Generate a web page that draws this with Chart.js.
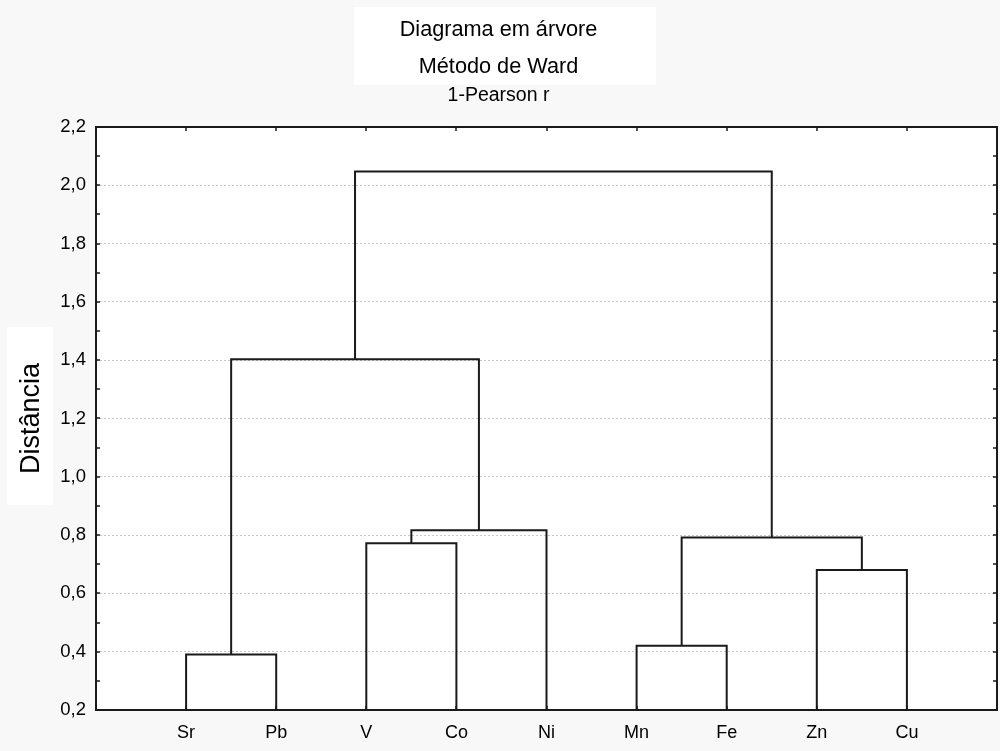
<!DOCTYPE html>
<html>
<head>
<meta charset="utf-8">
<script src="https://cdn.jsdelivr.net/npm/chart.js@4.4.1/dist/chart.umd.min.js"></script>
<style>
  html, body { margin: 0; padding: 0; background: #f8f8f8; }
  #wrap { width: 1000px; height: 751px; }
</style>
</head>
<body>
<div id="wrap"><canvas id="dendro"></canvas></div>
<script>
// leaves in plotted order
const leaves = ['Sr', 'Pb', 'V', 'Co', 'Ni', 'Mn', 'Fe', 'Zn', 'Cu'];
// merges: ids 0-8 are leaves, each merge gets the next id (9, 10, ...)
const mergeLeft  = [0, 5, 7, 2, 10, 12, 9, 15];
const mergeRight = [1, 6, 8, 3, 11, 4, 14, 13];
const mergeDist  = [0.39, 0.42, 0.68, 0.772, 0.792, 0.817, 1.403, 2.047];
// y axis
const yMin = 0.2, yMax = 2.2, yStep = 0.2;

const FONT = '"Liberation Sans", Arial, sans-serif';
Chart.defaults.font.family = FONT;
Chart.defaults.color = '#000';

// build the U shaped links from the merge table
const nodeX = leaves.map((_, i) => i + 1);
const nodeY = leaves.map(() => yMin);
const links = mergeDist.map((d, k) => {
  const a = mergeLeft[k], b = mergeRight[k];
  const pts = [
    { x: nodeX[a], y: nodeY[a] },
    { x: nodeX[a], y: d },
    { x: nodeX[b], y: d },
    { x: nodeX[b], y: nodeY[b] }
  ];
  nodeX.push((nodeX[a] + nodeX[b]) / 2);
  nodeY.push(d);
  return pts;
});

const frame = {
  id: 'frame',
  beforeDraw(chart) {
    const { ctx, chartArea: a } = chart;
    ctx.save();
    ctx.fillStyle = '#f8f8f8';
    ctx.fillRect(0, 0, chart.width, chart.height);
    ctx.fillStyle = '#fff';
    ctx.fillRect(354, 7, 302, 78);     // title box
    ctx.fillRect(7, 327, 46, 178);     // y title box
    ctx.fillRect(a.left, a.top, a.right - a.left, a.bottom - a.top);
    ctx.restore();
  },
  afterDraw(chart) {
    const { ctx, chartArea: a, scales: { x, y } } = chart;
    ctx.save();
    ctx.strokeStyle = '#1a1a1a';
    ctx.lineWidth = 2;
    ctx.strokeRect(a.left, a.top, a.right - a.left, a.bottom - a.top);
    ctx.lineWidth = 1.5;
    ctx.beginPath();
    for (let v = yMin; v <= yMax + 1e-9; v += yStep / 2) {
      const py = Math.round(y.getPixelForValue(v));
      ctx.moveTo(a.left, py); ctx.lineTo(a.left + 4, py);
      ctx.moveTo(a.right, py); ctx.lineTo(a.right - 4, py);
    }
    leaves.forEach((_, i) => {
      const px = Math.round(x.getPixelForValue(i + 1));
      ctx.moveTo(px, a.top); ctx.lineTo(px, a.top + 4);
      ctx.moveTo(px, a.bottom); ctx.lineTo(px, a.bottom - 4);
    });
    ctx.stroke();
    ctx.restore();
  }
};

new Chart(document.getElementById('dendro'), {
  type: 'scatter',
  data: {
    datasets: links.map(pts => ({
      data: pts,
      showLine: true,
      borderColor: '#1a1a1a',
      borderWidth: 2,
      pointRadius: 0,
      tension: 0,
      clip: false
    }))
  },
  options: {
    responsive: true,
    maintainAspectRatio: false,
    animation: false,
    events: [],
    layout: { padding: { left: 0, right: 3, top: 0, bottom: 0 } },
    plugins: {
      legend: { display: false },
      tooltip: { enabled: false },
      title: {
        display: true,
        text: ['Diagrama em árvore', 'Método de Ward'],
        font: { size: 21.7, weight: 'normal', lineHeight: 1.705 },
        color: '#000',
        padding: { top: 11.5, bottom: 0 }
      },
      subtitle: {
        display: true,
        text: '1-Pearson r',
        font: { size: 19.5, weight: 'normal', lineHeight: 1 },
        color: '#000',
        padding: { top: 0, bottom: 22 }
      }
    },
    scales: {
      x: {
        type: 'linear',
        min: 0,
        max: leaves.length + 1,
        afterBuildTicks: s => { s.ticks = leaves.map((_, i) => ({ value: i + 1 })); },
        afterFit: s => { s.height = 41; },
        ticks: {
          callback: v => leaves[v - 1] ?? '',
          autoSkip: false,
          maxRotation: 0,
          font: { size: 18 },
          color: '#000',
          padding: 12
        },
        grid: { display: false, drawTicks: false },
        border: { display: false }
      },
      y: {
        min: yMin,
        max: yMax,
        afterFit: s => { s.width = 96; },
        ticks: {
          stepSize: yStep,
          callback: v => v.toFixed(1).replace('.', ','),
          font: { size: 18.5 },
          color: '#000',
          padding: 10
        },
        grid: { color: '#c8c8c8', lineWidth: 1, drawTicks: false },
        border: { display: false, dash: [2, 2] },
        title: {
          display: true,
          text: 'Distância',
          font: { size: 27, lineHeight: 1 },
          color: '#000',
          padding: { top: 18, bottom: 0 }
        }
      }
    }
  },
  plugins: [frame]
});
</script>
</body>
</html>
